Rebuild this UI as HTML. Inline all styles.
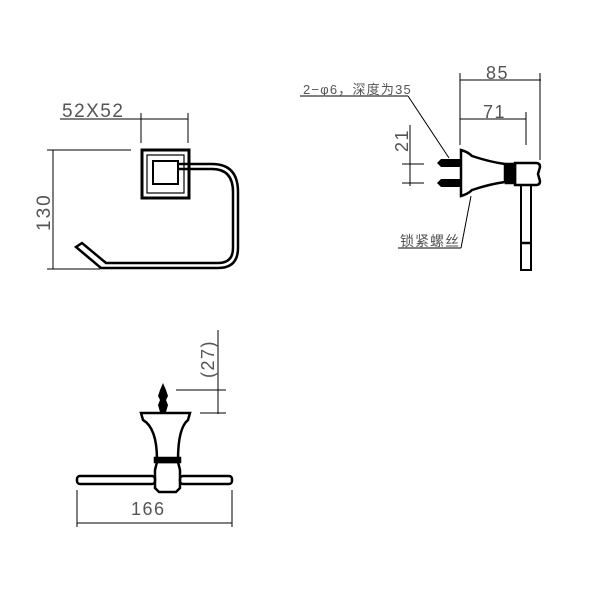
<!DOCTYPE html>
<html><head><style>body{margin:0;background:#fff}svg{display:block}text{font-family:"Liberation Sans","Noto Sans CJK SC",sans-serif;fill:#555}</style></head><body>
<svg width="600" height="600" viewBox="0 0 600 600" xmlns="http://www.w3.org/2000/svg" fill="none" stroke="#000">
<!-- View 1 -->
<g stroke-width="1">
<line x1="60" y1="119" x2="188" y2="119"/>
<line x1="141" y1="113" x2="141" y2="143"/>
<line x1="188" y1="113" x2="188" y2="143"/>
<line x1="47" y1="150" x2="131" y2="150"/>
<line x1="47" y1="269" x2="100" y2="269"/>
<line x1="53" y1="150" x2="53" y2="269"/>
</g>
<text x="62" y="117" font-size="19" letter-spacing="1.5" stroke="none">52X52</text>
<text x="0" y="0" font-size="19" letter-spacing="2" stroke="none" transform="translate(50,231) rotate(-90)">130</text>
<rect x="142" y="150" width="47" height="48" stroke-width="3"/>
<rect x="147" y="155" width="37" height="38" stroke-width="1.2"/>
<rect x="153" y="161" width="25" height="23" stroke-width="2"/>
<path d="M178,169 H212 Q233,169 233,192 V248 Q233,263 218,263 H106 L82,243 L76,247 L101,268 H218 Q238,268 238,248 V192 Q238,164 212,164 H178" stroke-width="2.5"/>
<!-- View 2 -->
<g stroke-width="1">
<line x1="460" y1="80" x2="541" y2="80"/>
<line x1="460" y1="73" x2="460" y2="145"/>
<line x1="540" y1="73" x2="540" y2="160"/>
<line x1="460" y1="119" x2="526" y2="119"/>
<line x1="526" y1="112" x2="526" y2="145"/>
<line x1="410" y1="125" x2="410" y2="186"/>
<line x1="402" y1="164" x2="424" y2="164"/>
<line x1="402" y1="183" x2="424" y2="183"/>
<line x1="300" y1="96" x2="408" y2="96"/>
<line x1="408" y1="96" x2="449" y2="158"/>
<line x1="398" y1="248" x2="461" y2="248"/>
<line x1="461" y1="248" x2="471" y2="196"/>
</g>
<text x="486" y="79" font-size="18" letter-spacing="1.5" stroke="none">85</text>
<text x="483" y="118" font-size="18" letter-spacing="1.5" stroke="none">71</text>
<text x="0" y="0" font-size="18" letter-spacing="1.5" stroke="none" transform="translate(408,152) rotate(-90)">21</text>
<text x="303" y="94" font-size="13" letter-spacing="1.2" stroke="none">2−φ6，深度为35</text>
<text x="400" y="246" font-size="14" letter-spacing="1" stroke="none">锁紧螺丝</text>
<g stroke-width="2.5">
<path d="M461,150 Q468,152 472,156 Q490,162 505,164 L505,182 Q490,184 472,190 Q468,194 461,196 Z"/>
<rect x="506" y="164" width="9" height="19" fill="#000"/>
<path d="M515,163 H536 Q540,163 540,167 L538,174 L540,181 Q540,185 536,185 H515 Z"/>
<rect x="521" y="185" width="10" height="85" stroke-width="2"/>
<line x1="522" y1="243" x2="530" y2="243"/>
</g>
<g fill="#000" stroke="none">
<path d="M437,163 L441,159 H460 V167 H441 Z"/>
<path d="M437,183 L441,179 H460 V187 H441 Z"/>
</g>
<!-- View 3 -->
<g stroke-width="1">
<line x1="218" y1="330" x2="218" y2="414"/>
<line x1="176" y1="390" x2="226" y2="390"/>
<line x1="200" y1="413" x2="226" y2="413"/>
<line x1="77" y1="490" x2="77" y2="527"/>
<line x1="232" y1="490" x2="232" y2="527"/>
<line x1="77" y1="523" x2="232" y2="523"/>
</g>
<text x="0" y="0" font-size="18" letter-spacing="1.5" stroke="none" transform="translate(214,378) rotate(-90)">(27)</text>
<text x="131" y="515" font-size="18" letter-spacing="1.5" stroke="none">166</text>
<path d="M163,383 L166,390 L168,396 L166,400 L168,405 L166,412 H160 L158,405 L160,400 L158,396 L160,390 Z" fill="#000" stroke="none"/>
<g stroke-width="2.5">
<path d="M141,413 H190 L188,420 Q178,428 178,460 H157 Q157,428 143,420 Z"/>
<rect x="155" y="458" width="25" height="4" fill="#000"/>
<path d="M157,462 H178 L180,470 V488 L176,492 H159 L155,488 V470 Z"/>
<rect x="77" y="476" width="78" height="8" rx="3"/>
<rect x="180" y="476" width="52" height="8" rx="3"/>
</g>
</svg>
</body></html>
